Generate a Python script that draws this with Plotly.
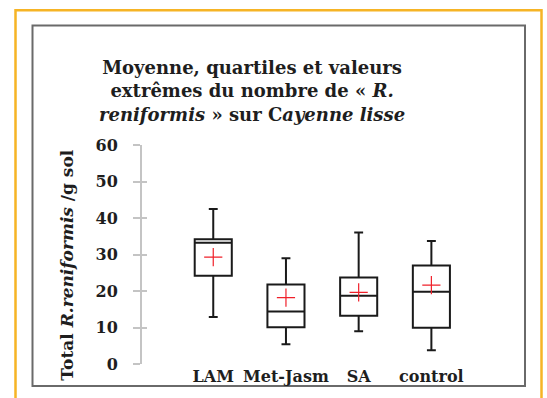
import plotly.graph_objects as go

# ---- data ----
categories = ["LAM", "Met-Jasm", "SA", "control"]
lower_whisker = [12.9, 5.4, 9.0, 3.8]
q1_values = [24.2, 10.1, 13.2, 9.9]
median_values = [33.2, 14.4, 18.7, 19.8]
q3_values = [34.2, 21.8, 23.7, 27.0]
upper_whisker = [42.5, 29.0, 36.0, 33.7]
mean_values = [29.3, 18.2, 19.6, 21.6]
y_ticks = [0, 10, 20, 30, 40, 50, 60]

# ---- layout geometry (pixels) ----
W, H = 547, 398
L, R = 142, 475
T, B = 144.7, 366.7
PW, PH = R - L, B - T


def px(xp):
    return (xp - L) / PW


def py(yp):
    return (B - yp) / PH


FONT = "DejaVu Serif"
TXT = "#1e1e1e"
AX = "#c4c4c4"

fig = go.Figure()

fig.add_trace(go.Box(
    x=categories,
    q1=q1_values,
    median=median_values,
    q3=q3_values,
    lowerfence=lower_whisker,
    upperfence=upper_whisker,
    width=0.51,
    whiskerwidth=0.24,
    line=dict(color="#1a1a1a", width=2),
    fillcolor="rgba(255,255,255,0)",
    boxpoints=False,
    showlegend=False,
    hoverinfo="skip",
))

fig.add_trace(go.Scatter(
    x=categories,
    y=mean_values,
    mode="markers",
    marker=dict(symbol="cross-thin", size=13,
                line=dict(color="#f0202a", width=1.2)),
    showlegend=False,
    hoverinfo="skip",
))

# invisible trace for the second (inside-tick) axis
fig.add_trace(go.Scatter(x=[categories[0]], y=[0], yaxis="y2",
                         mode="markers", marker=dict(opacity=0),
                         showlegend=False, hoverinfo="skip"))

fig.update_layout(
    width=W, height=H,
    margin=dict(l=L, r=W - R, t=T, b=H - B, pad=0),
    paper_bgcolor="white",
    plot_bgcolor="white",
    xaxis=dict(
        type="category",
        range=[-0.98, 3.6],
        showgrid=False, zeroline=False, showline=False,
        ticks="",
        tickfont=dict(family=FONT, size=16, color=TXT, weight="bold"),
        ticklabelstandoff=1,
    ),
    yaxis=dict(
        range=[0, 60],
        tickvals=y_ticks,
        showgrid=False, zeroline=False,
        showline=True, linecolor=AX, linewidth=2,
        ticks="outside", ticklen=7, tickwidth=1.5, tickcolor=AX,
        tickfont=dict(family=FONT, size=16, color=TXT, weight="bold"),
        ticklabelstandoff=12,
    ),
    yaxis2=dict(
        range=[0, 60],
        overlaying="y", side="left", anchor="x",
        tickvals=y_ticks,
        showgrid=False, zeroline=False, showline=False,
        ticks="inside", ticklen=5, tickwidth=1.5, tickcolor=AX,
        showticklabels=False,
    ),
    annotations=[
        dict(
            text="Moyenne, quartiles et valeurs<br>extrêmes du nombre de « <i>R.</i><br><i>reniformis</i> » sur C<i>ayenne lisse</i>",
            xref="paper", yref="paper",
            x=px(252), y=py(90),
            xanchor="center", yanchor="middle",
            showarrow=False, align="center",
            font=dict(family=FONT, size=18, color=TXT, weight="bold"),
        ),
        dict(
            text="Total <i>R.reniformis</i> /g sol",
            xref="paper", yref="paper",
            x=px(67), y=py(267),
            xanchor="center", yanchor="middle",
            textangle=-90,
            showarrow=False,
            font=dict(family=FONT, size=17, color=TXT, weight="bold"),
        ),
    ],
    shapes=[
        dict(type="rect", xref="paper", yref="paper",
             x0=px(15.5), x1=px(541.5), y0=py(420), y1=py(8),
             line=dict(color="#f6b425", width=2.5), layer="below"),
        dict(type="rect", xref="paper", yref="paper",
             x0=px(32.5), x1=px(525), y0=py(389), y1=py(23.5),
             line=dict(color="#6a6a6a", width=2), layer="below"),
    ],
)

fig.write_html("out.html", config={"displayModeBar": False},
               post_script="document.body.style.margin='0';")
